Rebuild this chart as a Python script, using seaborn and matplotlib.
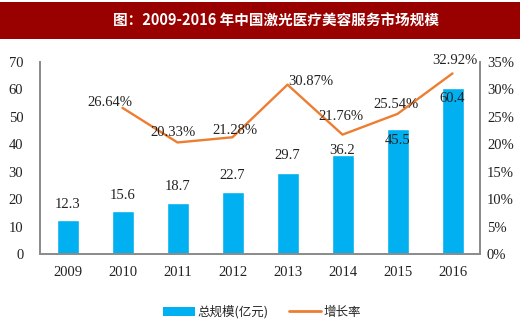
import numpy as np
import pandas as pd
import matplotlib
matplotlib.use("Agg")
import matplotlib.pyplot as plt
import seaborn as sns
from matplotlib.patches import Rectangle, Patch
from matplotlib.lines import Line2D

# ---- data ----
years = ["2009", "2010", "2011", "2012", "2013", "2014", "2015", "2016"]
market_size = [12.3, 15.6, 18.7, 22.7, 29.7, 36.2, 45.5, 60.4]
growth_rate = [np.nan, 26.64, 20.33, 21.28, 30.87, 21.76, 25.54, 32.92]
title_text = "图：2009-2016 年中国激光医疗美容服务市场规模"
bar_label = "总规模(亿元)"
line_label = "增长率"
left_ticks = [0, 10, 20, 30, 40, 50, 60, 70]
right_ticks = [0, 5, 10, 15, 20, 25, 30, 35]

# ---- label offsets (points) ----
bar_lbl_dy = [11.5, 11.5, 11.5, 11.5, 12, 3, -8, -7]
line_lbl_dx = [0, -9, -3, 2, 17, -1, -1, 2]
line_lbl_dy = [0, 4, 7, 5, 2, 13, 6.5, 9.5]

sns.set_theme(style="white")
plt.rcParams['font.family'] = ['Noto Sans CJK SC', 'DejaVu Sans']

BLUE = "#00B0F0"
ORANGE = "#ED7D31"
SPINE = "#8C8C8C"
NUMFONT = ["Liberation Serif", "DejaVu Serif"]

fig = plt.figure(figsize=(5.2, 3.26), dpi=100)
fig.patch.set_facecolor("white")

# title banner
fig.patches.append(Rectangle((0, 1 - 39 / 326), 1, 37 / 326, transform=fig.transFigure,
                             facecolor="#990000", edgecolor="none", zorder=0))
fig.text(276 / 520, 1 - 20.5 / 326, title_text, color="white", fontsize=10.5,
         fontweight="bold", ha="center", va="center",
         family=['Noto Sans CJK SC', 'DejaVu Sans'])

ax = fig.add_axes([40 / 520, (326 - 254) / 326, 440 / 520, 192 / 326])
df = pd.DataFrame({"year": years, "size": market_size, "growth": growth_rate})
df["pos"] = np.arange(len(years))

sns.barplot(data=df, x="year", y="size", color=BLUE, saturation=1, width=0.4, ax=ax)
ax.set_xlim(-0.5, len(years) - 0.5)
ax.set_ylim(0, 70)
ax.set_yticks(left_ticks)
ax.set_xlabel("")
ax.set_ylabel("")

for i, v in enumerate(market_size):
    ax.annotate(f"{v}", (i, v), xytext=(0, bar_lbl_dy[i]), textcoords="offset points",
                ha="center", va="center", fontsize=10.5, family=NUMFONT, color="#222222")

ax2 = ax.twinx()
sns.lineplot(data=df, x="pos", y="growth", color=ORANGE, linewidth=1.7, ax=ax2)
ax2.set_ylim(0, 35)
ax2.set_yticks(right_ticks)
ax2.set_yticklabels([f"{t}%" for t in right_ticks])
ax2.set_xlim(-0.5, len(years) - 0.5)
ax2.set_xlabel("")
ax2.set_ylabel("")

for i, v in enumerate(growth_rate):
    if np.isnan(v):
        continue
    ax2.annotate(f"{v:.2f}%", (i, v), xytext=(line_lbl_dx[i], line_lbl_dy[i]),
                 textcoords="offset points", ha="center", va="center",
                 fontsize=10.5, family=NUMFONT, color="#222222")

for a in (ax, ax2):
    a.spines["top"].set_visible(False)
    for s in ("left", "right", "bottom"):
        a.spines[s].set_color(SPINE)
        a.spines[s].set_linewidth(1.3)
    a.tick_params(length=0, labelsize=10.5, colors="#222222")
    for lab in a.get_yticklabels() + a.get_xticklabels():
        lab.set_family(NUMFONT)

ax.tick_params(axis="y", pad=12)
ax.tick_params(axis="x", pad=9)
ax2.tick_params(axis="y", pad=5)

handles = [Patch(facecolor=BLUE, edgecolor="none"),
           Line2D([0], [0], color=ORANGE, linewidth=2)]
fig.legend(handles, [bar_label, line_label], loc="center", bbox_to_anchor=(262 / 520, 1 - 312 / 326),
           ncol=2, frameon=False, fontsize=9, handlelength=2.6, handleheight=0.7,
           columnspacing=1.6, handletextpad=0.2)

fig.savefig("out.png", dpi=100, facecolor="white")
